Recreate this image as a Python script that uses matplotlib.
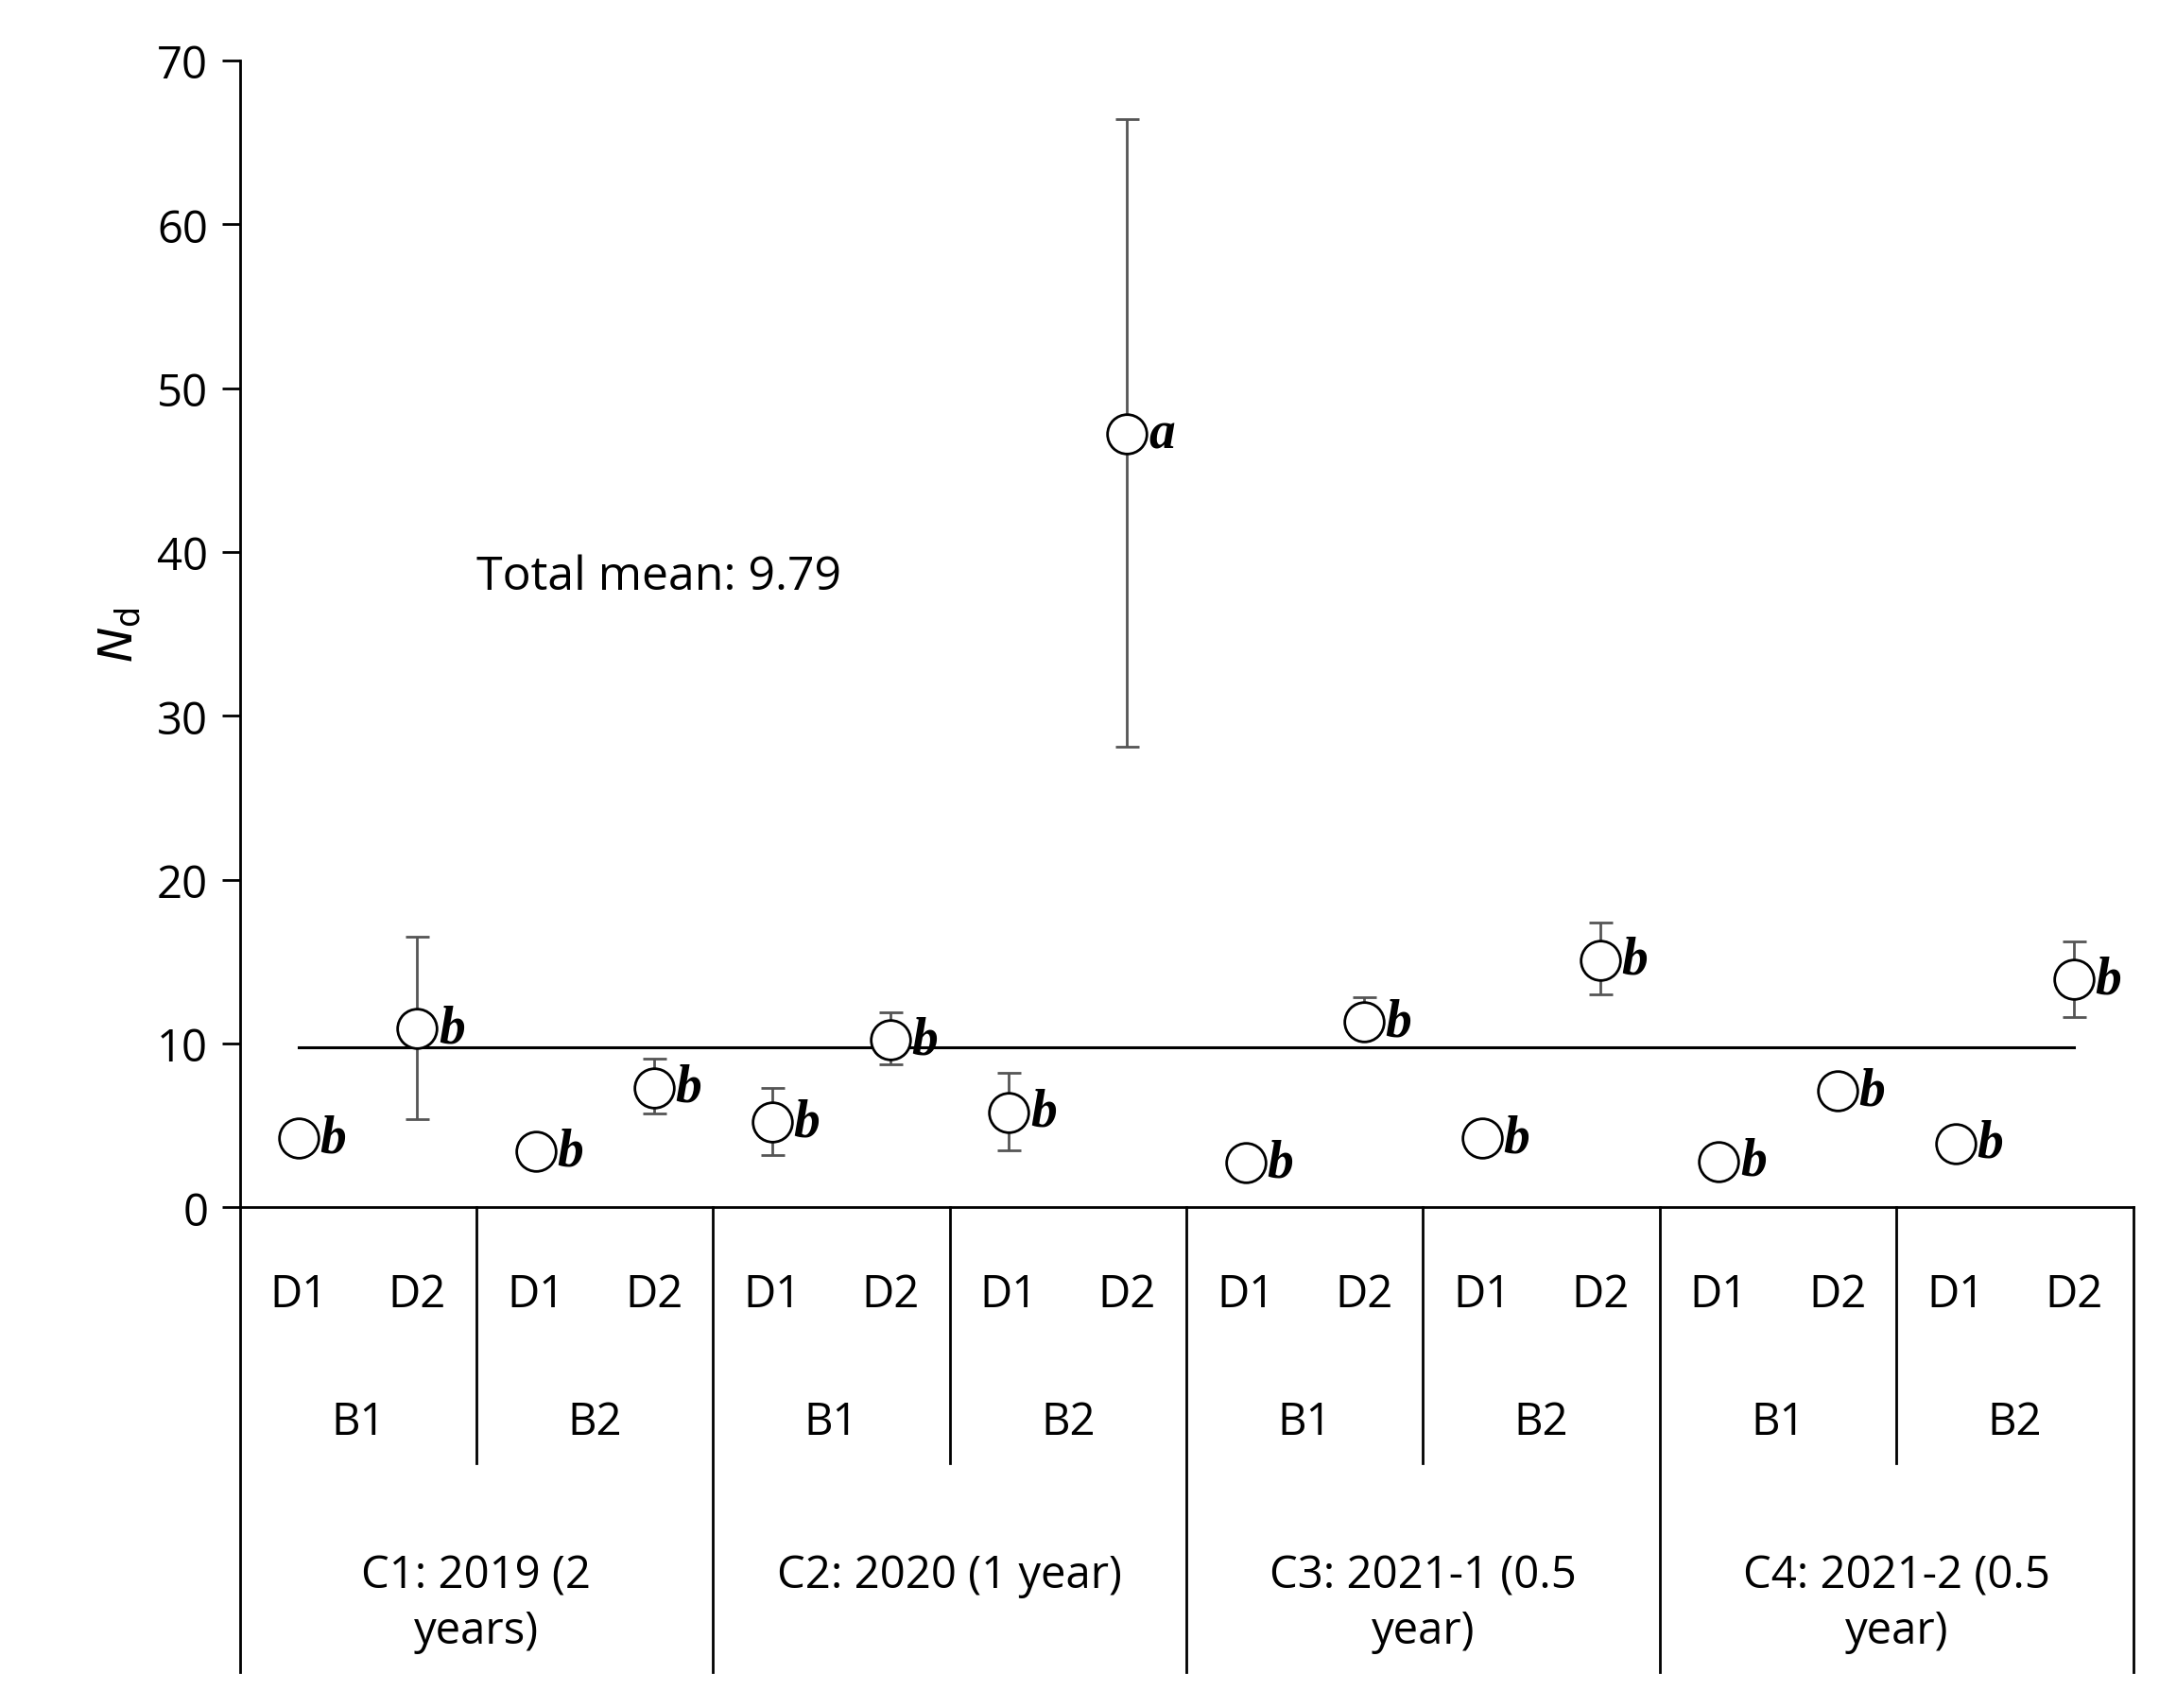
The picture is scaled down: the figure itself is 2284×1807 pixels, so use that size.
import matplotlib
matplotlib.use("Agg")
import matplotlib.pyplot as plt
import numpy as np

plt.rcParams["font.family"] = ["Open Sans", "DejaVu Sans"]

d_labels = ["D1", "D2"] * 8
b_labels = ["B1", "B2"] * 4
c_labels = ["C1: 2019 (2\nyears)", "C2: 2020 (1 year)", "C3: 2021-1 (0.5\nyear)", "C4: 2021-2 (0.5\nyear)"]
means = [4.2, 10.9, 3.4, 7.3, 5.2, 10.2, 5.8, 47.2, 2.7, 11.3, 4.2, 15.1, 2.8, 7.1, 3.9, 13.9]
err_low = [4.2, 5.4, 3.4, 5.7, 3.2, 8.7, 3.5, 28.1, 2.7, 10.4, 4.2, 13.0, 2.8, 7.1, 3.9, 11.6]
err_high = [4.2, 16.5, 3.4, 9.1, 7.3, 11.9, 8.2, 66.4, 2.7, 12.8, 4.2, 17.4, 2.8, 7.1, 3.9, 16.2]
letters = ["b"] * 7 + ["a"] + ["b"] * 8
total_mean = 9.79

fig = plt.figure(figsize=(22.84, 18.08), dpi=100)
ax = fig.add_axes([0.111, 0.293, 0.877, 0.671])
x = np.arange(16) + 0.5
m = np.array(means)
yerr = [m - np.array(err_low), np.array(err_high) - m]
ax.errorbar(x, m, yerr=yerr, fmt="none", ecolor="#555555", elinewidth=2, capsize=9, capthick=2, zorder=2)
ax.plot([x[0], x[-1]], [total_mean, total_mean], color="black", lw=2.2, zorder=1)
ax.plot(x, m, "o", ms=30, mfc="white", mec="black", mew=2, zorder=3)
for xi, yi, lt in zip(x, m, letters):
    ax.text(xi + 0.18, yi, lt, fontsize=40, family="Liberation Serif", weight="bold", style="italic",
            va="center", ha="left")
ax.text(2.0, 38.5, f"Total mean: {total_mean}", fontsize=36, ha="left", va="center")

ax.set_xlim(0, 16)
ax.set_ylim(0, 70)
ax.set_yticks(range(0, 71, 10))
ax.set_xticks([])
ax.tick_params(axis="y", labelsize=34, length=14, width=2, pad=10)
for s in ["top", "right"]:
    ax.spines[s].set_visible(False)
ax.spines["left"].set_linewidth(2)
ax.spines["bottom"].set_linewidth(2)
ax.set_ylabel(r"$N_\mathrm{d}$", fontsize=36, labelpad=10)

# category table below the axis
lk = dict(color="black", lw=2, clip_on=False)
ax.plot([0, 0], [0, -28.4], **lk)
ax.plot([16, 16], [0, -28.4], **lk)
for i in range(1, 8):
    bottom = -28.4 if i % 2 == 0 else -15.6
    ax.plot([2 * i, 2 * i], [0, bottom], **lk)
for xi, lab in zip(x, d_labels):
    ax.text(xi, -5.3, lab, fontsize=34, ha="center", va="center")
for i, lab in enumerate(b_labels):
    ax.text(2 * i + 1, -13.1, lab, fontsize=34, ha="center", va="center")
for i, lab in enumerate(c_labels):
    ax.text(4 * i + 2, -21.1, lab, fontsize=34, ha="center", va="top", linespacing=1.3)

fig.savefig("out.png", dpi=100, facecolor="white")
